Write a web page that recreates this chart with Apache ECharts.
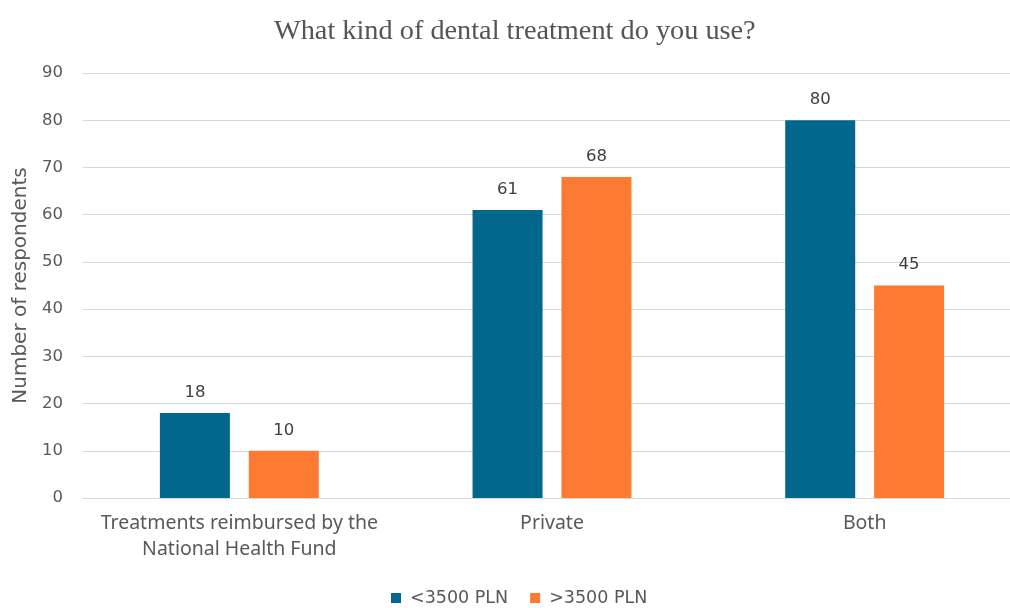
<!DOCTYPE html>
<html>
<head>
<meta charset="utf-8">
<script src="https://cdn.jsdelivr.net/npm/echarts@6/dist/echarts.min.js"></script>
<style>
  html, body { margin: 0; padding: 0; background: #ffffff; }
  #chart { width: 1010px; height: 608px; }
</style>
</head>
<body>
<div id="chart"></div>
<script>
// Survey answers split by monthly income group
const categories = ['Treatments reimbursed by the\nNational Health Fund', 'Private', 'Both'];
const seriesNames = ['<3500 PLN', '>3500 PLN'];
const lowIncome = [18, 61, 80];
const highIncome = [10, 68, 45];
const yTicks = { min: 0, max: 90, interval: 10 };

const chart = echarts.init(document.getElementById('chart'), null, { renderer: 'canvas' });

const sans = 'DejaVu Sans, Liberation Sans, Arial, sans-serif';

const labelStyle = {
  show: true,
  position: 'top',
  distance: 12,
  color: '#404040',
  fontFamily: sans,
  fontSize: 16.5
};

chart.setOption({
  backgroundColor: '#ffffff',
  animation: false,
  title: {
    text: 'What kind of dental treatment do you use?',
    left: 269,
    top: 13,
    textStyle: {
      fontFamily: 'Liberation Serif, Times New Roman, serif',
      fontWeight: 'normal',
      fontSize: 28.3,
      color: '#555555'
    }
  },
  legend: {
    data: seriesNames,
    bottom: -4,
    left: 386,
    itemWidth: 10,
    itemHeight: 10,
    itemGap: 22,
    icon: 'rect',
    textStyle: {
      fontFamily: sans,
      fontSize: 17.5,
      color: '#595959',
      padding: [0, 0, 0, 4]
    }
  },
  grid: {
    left: 83,
    top: 73,
    right: -11,
    bottom: 110,
    containLabel: false,
    outerBoundsMode: 'none'
  },
  xAxis: {
    type: 'category',
    data: categories,
    axisTick: { show: false },
    axisLine: { show: true, lineStyle: { color: '#d9d9d9', width: 1 } },
    axisLabel: {
      interval: 0,
      margin: 12,
      color: '#595959',
      fontFamily: 'Noto Sans, Open Sans, sans-serif',
      fontSize: 19.5,
      lineHeight: 26
    }
  },
  yAxis: {
    type: 'value',
    min: yTicks.min,
    max: yTicks.max,
    interval: yTicks.interval,
    name: 'Number of respondents',
    nameLocation: 'middle',
    nameGap: 44,
    nameRotate: 90,
    nameTextStyle: {
      fontFamily: sans,
      fontSize: 20,
      color: '#595959'
    },
    axisLine: { show: false },
    axisTick: { show: false },
    axisLabel: {
      margin: 20,
      color: '#595959',
      fontFamily: sans,
      fontSize: 16.5
    },
    splitLine: { lineStyle: { color: '#d9d9d9', width: 1 } }
  },
  series: [
    {
      name: seriesNames[0],
      type: 'bar',
      data: lowIncome,
      barWidth: 70,
      barGap: '27%',
      itemStyle: { color: '#03668c' },
      label: labelStyle
    },
    {
      name: seriesNames[1],
      type: 'bar',
      data: highIncome,
      barWidth: 70,
      barGap: '27%',
      itemStyle: { color: '#fd7a32' },
      label: labelStyle
    }
  ]
});
</script>
</body>
</html>
